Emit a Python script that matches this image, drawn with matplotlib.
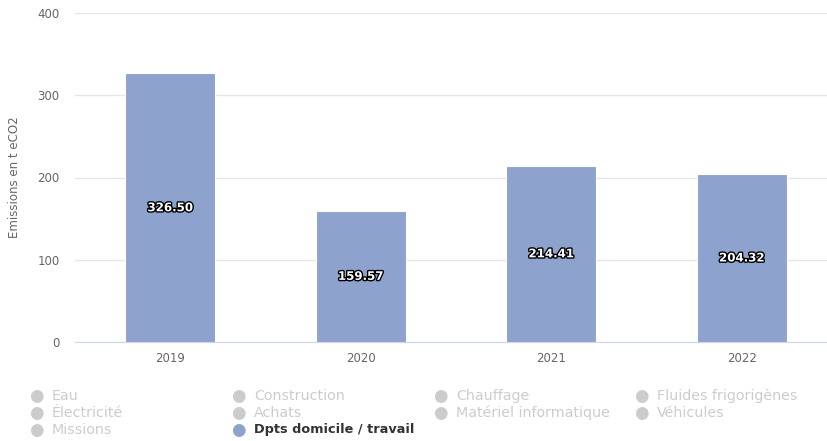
import matplotlib
matplotlib.use('Agg')
import matplotlib.pyplot as plt
import matplotlib.patheffects as pe
import numpy as np

# emissions for commuting, per year
annees = ['2019', '2020', '2021', '2022']
emissions = [326.50, 159.57, 214.41, 204.32]

# legend entries (only "Dpts domicile / travail" is shown)
postes = [['Eau', 'Construction', 'Chauffage', 'Fluides frigorigènes'],
          ['Électricité', 'Achats', 'Matériel informatique', 'Véhicules'],
          ['Missions', 'Dpts domicile / travail']]
actif = 'Dpts domicile / travail'

bleu = '#8da2cc'
W, H = 828, 441

fig = plt.figure(figsize=(W / 100, H / 100), dpi=100)
ax = fig.add_axes([75 / W, 1 - 342 / H, (828 - 75) / W, (342 - 13) / H])

x = np.arange(len(annees))
ax.bar(x, emissions, width=0.47, color=bleu, edgecolor='white', linewidth=0.8, zorder=3)

for xi, v in zip(x, emissions):
    ax.text(xi, v / 2, f'{v:.2f}', ha='center', va='center', color='white',
            fontsize=8.5, fontweight='bold', zorder=4,
            path_effects=[pe.withStroke(linewidth=2, foreground='black')])

ax.set_xlim(-0.5, -0.5 + 753 / 190.5)
ax.set_ylim(0, 400)
ax.set_yticks([0, 100, 200, 300, 400])
ax.set_xticks(x)
ax.set_xticklabels(annees)
ax.grid(axis='y', color='#e6e6e6', linewidth=1, zorder=0)
ax.tick_params(axis='both', length=0, labelsize=8.5, labelcolor='#666666')
ax.tick_params(axis='y', pad=11)
ax.tick_params(axis='x', pad=7)
for s in ['top', 'right', 'left']:
    ax.spines[s].set_visible(False)
ax.spines['bottom'].set_color('#ccd6eb')
ax.set_ylabel('Emissions en t eCO2', fontsize=8.5, color='#666666', labelpad=12)

# legend grid
colonnes = [36, 238, 440, 641]
lignes = [396, 413, 430]
for r, rang in enumerate(postes):
    for c, nom in enumerate(rang):
        px, py = colonnes[c], lignes[r]
        on = nom == actif
        fig.text(px / W, 1 - py / H, '\u25CF', ha='center', va='center',
                 fontsize=12, color=bleu if on else '#cccccc')
        fig.text((px + 16) / W, 1 - py / H, nom, ha='left', va='center',
                 fontsize=9.3 if on else 10.3,
                 color='#333333' if on else '#cccccc',
                 fontweight='bold' if on else 'normal')

fig.savefig('out.png', dpi=100)
